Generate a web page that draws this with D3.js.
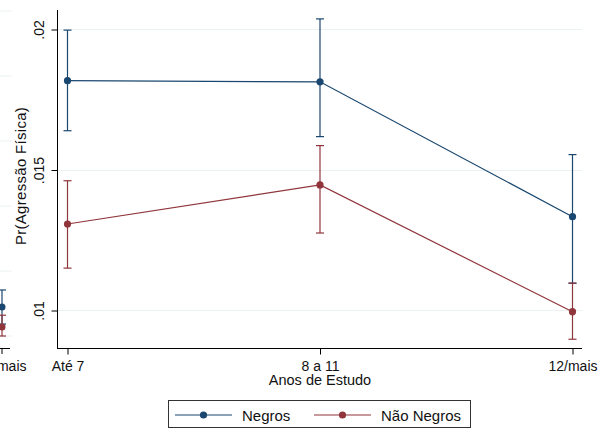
<!DOCTYPE html>
<html>
<head>
<meta charset="utf-8">
<script src="https://cdn.jsdelivr.net/npm/d3@7"></script>
<style>
  body { margin: 0; background: #fff; }
  svg text { font-family: "Liberation Sans", Arial, sans-serif; fill: #111; }
</style>
</head>
<body>
<div id="chart"></div>
<script>
// Categories and estimates
const categories = ['Até 7', '8 a 11', '12/mais'];
const negrosEst = [0.01816, 0.01812, 0.01332];
const negrosLo = [0.01638, 0.01617, 0.01095];
const negrosHi = [0.01996, 0.02036, 0.01553];
const naoNegrosEst = [0.01306, 0.01445, 0.00994];
const naoNegrosLo = [0.01149, 0.01274, 0.00896];
const naoNegrosHi = [0.01460, 0.01585, 0.01096];
const yTicks = [0.01, 0.015, 0.02];
const yTickLabels = ['.01', '.015', '.02'];

// Right edge of the neighbouring panel (cut off on the left)
const prevTicks = [0.005, 0.01, 0.015, 0.02, 0.025, 0.03];
const prevNegros = { est: 0.00723, lo: 0.00592, hi: 0.00854 };
const prevNaoNegros = { est: 0.00569, lo: 0.00500, hi: 0.00660 };

const series = [
    { name: 'Negros', color: '#1a476f', est: negrosEst, lo: negrosLo, hi: negrosHi },
    { name: 'Não Negros', color: '#90353b', est: naoNegrosEst, lo: naoNegrosLo, hi: naoNegrosHi }
];

const svgWidth = 606;
const svgHeight = 428;

let svg = d3.select('#chart')
    .append('svg')
    .attr('width', svgWidth)
    .attr('height', svgHeight);

// ---- neighbouring panel fragment ----
let clip = svg.append('clipPath').attr('id', 'prevClip');
clip.append('rect').attr('x', 0).attr('y', 0).attr('width', 12).attr('height', 360);

let prev = svg.append('g').attr('clip-path', 'url(#prevClip)');
let xPrev = d3.scalePoint().domain(categories).range([-503, 2]);
let yPrev = d3.scaleLinear().domain([0.005, 0.03]).range([336, 11]);

prev.selectAll('.pgrid')
    .data(prevTicks)
    .enter()
    .append('line')
    .attr('x1', -20).attr('x2', 12)
    .attr('y1', d => yPrev(d)).attr('y2', d => yPrev(d))
    .style('stroke', '#eaf2f3')
    .style('stroke-width', 1);

prev.append('line')
    .attr('x1', -20).attr('x2', 10)
    .attr('y1', 348.5).attr('y2', 348.5)
    .style('stroke', '#000');

prev.append('line')
    .attr('x1', xPrev('12/mais')).attr('x2', xPrev('12/mais'))
    .attr('y1', 348).attr('y2', 354)
    .style('stroke', '#000');

[[prevNegros, '#1a476f'], [prevNaoNegros, '#90353b']].forEach(([d, c]) => {
    let cx = xPrev('12/mais');
    prev.append('line')
        .attr('x1', cx).attr('x2', cx)
        .attr('y1', yPrev(d.lo)).attr('y2', yPrev(d.hi))
        .style('stroke', c).style('stroke-width', 1.2);
    [d.lo, d.hi].forEach(v => {
        prev.append('line')
            .attr('x1', cx - 4).attr('x2', cx + 4)
            .attr('y1', yPrev(v)).attr('y2', yPrev(v))
            .style('stroke', c).style('stroke-width', 1.2);
    });
    prev.append('circle')
        .attr('cx', cx).attr('cy', yPrev(d.est)).attr('r', 3.5)
        .style('fill', c);
});

svg.append('text')
    .attr('x', xPrev('12/mais'))
    .attr('y', 371)
    .attr('text-anchor', 'middle')
    .style('font-size', '14px')
    .text('12/mais');

// ---- main panel ----
const plotLeft = 57;
const plotRight = 582;
const plotBottom = 348;
const plotTop = 10;

let xScale = d3.scalePoint().domain(categories).range([67.5, 572.5]);
let yScale = d3.scaleLinear().domain([0.01, 0.02]).range([310, 29]);

// Gridlines
svg.selectAll('.grid')
    .data(yTicks)
    .enter()
    .append('line')
    .attr('class', 'grid')
    .attr('x1', plotLeft).attr('x2', plotRight)
    .attr('y1', d => Math.round(yScale(d)) + 0.5)
    .attr('y2', d => Math.round(yScale(d)) + 0.5)
    .style('stroke', '#eaf2f3')
    .style('stroke-width', 1);

// Y axis
let yAxis = d3.axisLeft(yScale)
    .tickValues(yTicks)
    .tickFormat((d, i) => yTickLabels[i])
    .tickSize(6)
    .tickPadding(8);

let yG = svg.append('g')
    .attr('transform', `translate(${plotLeft + 0.5}, 0.5)`)
    .call(yAxis);
yG.select('.domain').remove();
yG.selectAll('line').style('stroke', '#000');
yG.selectAll('text')
    .style('font-size', '14px')
    .attr('text-anchor', 'middle')
    .attr('x', null)
    .attr('dy', null)
    .attr('transform', 'translate(-14,0) rotate(-90)');

svg.append('line')
    .attr('x1', plotLeft + 0.5).attr('x2', plotLeft + 0.5)
    .attr('y1', plotTop).attr('y2', plotBottom + 0.5)
    .style('stroke', '#000');

// X axis
let xAxis = d3.axisBottom(xScale)
    .tickSizeOuter(0)
    .tickSize(6)
    .tickPadding(6);

let xG = svg.append('g')
    .attr('transform', `translate(0, ${plotBottom + 0.5})`)
    .call(xAxis);
xG.select('.domain')
    .attr('d', `M${plotLeft},0H${plotRight}`)
    .style('stroke', '#000');
xG.selectAll('line').style('stroke', '#000');
xG.selectAll('text')
    .style('font-size', '14px')
    .attr('dy', null)
    .attr('y', 22);

// Axis titles
svg.append('text')
    .attr('x', xScale('8 a 11'))
    .attr('y', 385)
    .attr('text-anchor', 'middle')
    .style('font-size', '14.5px')
    .text('Anos de Estudo');

svg.append('text')
    .attr('transform', 'translate(26, 176) rotate(-90)')
    .attr('text-anchor', 'middle')
    .style('font-size', '15px')
    .style('letter-spacing', '0.3px')
    .text('Pr(Agressão Física)');

// Series
let line = d3.line()
    .x(d => xScale(d.cat))
    .y(d => yScale(d.v));

series.forEach(s => {
    let pts = categories.map((c, i) => ({ cat: c, v: s.est[i], lo: s.lo[i], hi: s.hi[i] }));
    let g = svg.append('g');

    // CI spikes with caps
    g.selectAll('.ci')
        .data(pts)
        .enter()
        .append('line')
        .attr('x1', d => xScale(d.cat)).attr('x2', d => xScale(d.cat))
        .attr('y1', d => yScale(d.lo)).attr('y2', d => yScale(d.hi))
        .style('stroke', s.color).style('stroke-width', 1.2);

    ['lo', 'hi'].forEach(k => {
        g.selectAll('.cap-' + k)
            .data(pts)
            .enter()
            .append('line')
            .attr('x1', d => xScale(d.cat) - 4).attr('x2', d => xScale(d.cat) + 4)
            .attr('y1', d => yScale(d[k])).attr('y2', d => yScale(d[k]))
            .style('stroke', s.color).style('stroke-width', 1.2);
    });

    g.append('path')
        .datum(pts)
        .attr('d', line)
        .style('fill', 'none')
        .style('stroke', s.color)
        .style('stroke-width', 1.2);

    g.selectAll('circle')
        .data(pts)
        .enter()
        .append('circle')
        .attr('cx', d => xScale(d.cat))
        .attr('cy', d => yScale(d.v))
        .attr('r', 3.6)
        .style('fill', s.color);
});

// Legend
svg.append('rect')
    .attr('x', 168.5).attr('y', 400.5)
    .attr('width', 302).attr('height', 27)
    .style('fill', '#fff')
    .style('stroke', '#333')
    .style('stroke-width', 1);

let legendX = [175, 314];
let legend = svg.selectAll('.legend')
    .data(series)
    .enter()
    .append('g')
    .attr('class', 'legend')
    .attr('transform', (d, i) => `translate(${legendX[i]}, 415)`);

legend.append('line')
    .attr('x1', 0).attr('x2', 57)
    .attr('y1', 0).attr('y2', 0)
    .style('stroke', d => d.color)
    .style('stroke-width', 1.2);

legend.append('circle')
    .attr('cx', 28.5).attr('cy', 0).attr('r', 3.6)
    .style('fill', d => d.color);

legend.append('text')
    .attr('x', 67)
    .attr('y', 5.5)
    .style('font-size', '15px')
    .text(d => d.name);
</script>
</body>
</html>
